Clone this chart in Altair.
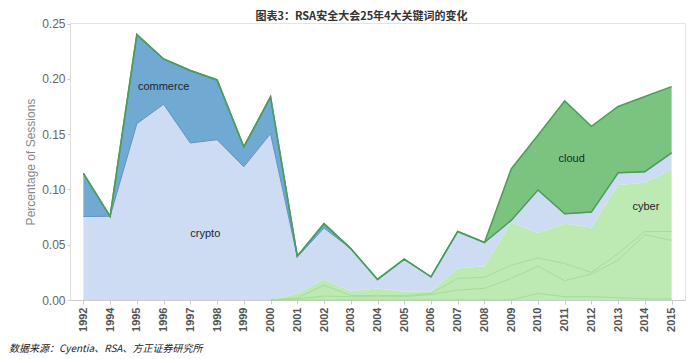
import altair as alt
import pandas as pd

years = ["1992", "1994", "1995", "1996", "1997", "1998", "1999", "2000", "2001", "2002", "2003", "2004",
         "2005", "2006", "2007", "2008", "2009", "2010", "2011", "2012", "2013", "2014", "2015"]

# stacked from bottom to top
other3 = [0, 0, 0, 0, 0, 0, 0, 0, 0, 0, 0, 0, 0, 0, 0, 0, 0, 0.006, 0.003, 0.003, 0.002, 0.001, 0.001]
other2 = [0, 0, 0, 0, 0, 0, 0, 0, 0.001, 0.0035, 0.003, 0.003, 0.003, 0.005, 0.009, 0.0105, 0.0195, 0.0245,
          0.0145, 0.0205, 0.034, 0.058, 0.053]
other1 = [0, 0, 0, 0, 0, 0, 0, 0, 0.001, 0.010, 0.001, 0.001, 0.001, 0.001, 0.0105, 0.010, 0.012, 0.0075,
          0.0155, 0.0015, 0.006, 0.003, 0.008]
cyber = [0, 0, 0, 0, 0, 0, 0, 0, 0.004, 0.005, 0.004, 0.0065, 0.0035, 0.0015, 0.009, 0.010, 0.0385, 0.0225,
         0.036, 0.0405, 0.062, 0.044, 0.056]
crypto = [0.0755, 0.0757, 0.1595, 0.177, 0.142, 0.145, 0.1205, 0.1505, 0.033, 0.0465, 0.0385, 0.0081, 0.0295,
          0.0135, 0.0335, 0.0215, 0.002, 0.039, 0.009, 0.014, 0.011, 0.010, 0.015]
commerce = [0.039, 0, 0.0805, 0.041, 0.0655, 0.054, 0.018, 0.0332, 0.0006, 0.004, 0, 0, 0, 0, 0, 0, 0, 0, 0,
            0, 0, 0, 0]
cloud = [0, 0, 0, 0, 0, 0, 0, 0, 0, 0, 0, 0, 0, 0, 0, 0, 0.0465, 0.0495, 0.102, 0.0775, 0.060, 0.068, 0.060]

series = {"other3": other3, "other2": other2, "other1": other1, "cyber": cyber,
          "crypto": crypto, "commerce": commerce, "cloud": cloud}
fills = {"other3": "#bde9b2", "other2": "#bde9b2", "other1": "#bde9b2", "cyber": "#bde9b2",
         "crypto": "#cddcf3", "commerce": "#70a9d2", "cloud": "#7ac47f"}

label_names = ["commerce", "crypto", "cloud", "cyber"]
label_years = ["1996", "1997", "2011", "2014"]
label_vals = [0.1925, 0.060, 0.1277, 0.0839]
label_dx = [0, 15, 7, 1]

title_text = "图表3：RSA安全大会25年4大关键词的变化"
source_text = "数据来源：Cyentia、RSA、方正证券研究所"

rows = []
for k, (name, vals) in enumerate(series.items()):
    for y, v in zip(years, vals):
        rows.append({"year": y, "series": name, "value": v, "ord": k})
df = pd.DataFrame(rows)

W, H = 615, 277

base = alt.Chart(df).transform_stack(
    stack="value", groupby=["year"], as_=["y0", "y1"],
    sort=[alt.SortField("ord", order="ascending")]
).transform_calculate(yr="toNumber(datum.year)")

xenc = alt.X("year:O", sort=years,
             scale=alt.Scale(type="point", padding=0.5),
             axis=alt.Axis(title=None, labelAngle=270, labelFontWeight="bold", labelFontSize=11,
                           labelColor="#555555", labelFont="Liberation Sans", tickColor="#cccccc",
                           tickSize=4, domainColor="#cccccc", labelPadding=3))
yscale = alt.Scale(domain=[0, 0.2505], nice=False)
yaxis = alt.Axis(title="Percentage of Sessions", format=".2f",
                 values=[0, 0.05, 0.10, 0.15, 0.20, 0.25],
                 labelFontSize=12, labelColor="#666666", labelFont="Liberation Sans",
                 titleColor="#888888", titleFontSize=12, titleFontWeight="normal",
                 titleFont="Liberation Sans", tickColor="#cccccc", tickSize=3, labelPadding=2,
                 domainColor="#dddddd", grid=False, titlePadding=4)


def yenc(field):
    return alt.Y(field, scale=yscale, axis=yaxis)


layers = []
for name in series:
    layers.append(
        base.transform_filter(alt.datum.series == name)
        .mark_area(color=fills[name], opacity=1, interpolate="linear")
        .encode(x=xenc, y=yenc("y1:Q"), y2="y0:Q")
    )

for name in ["other3", "other2", "other1"]:
    layers.append(
        base.transform_filter((alt.datum.series == name) & (alt.datum.yr >= 2000))
        .mark_line(color="#a6da99", strokeWidth=1)
        .encode(x=xenc, y=yenc("y1:Q"))
    )

layers.append(
    base.transform_filter(alt.datum.series == "crypto")
    .mark_line(color="#5d94c0", strokeWidth=1)
    .encode(x=xenc, y=yenc("y1:Q"))
)
layers.append(
    base.transform_filter(alt.datum.series == "cloud")
    .mark_line(color="#4e9c5d", strokeWidth=1.5)
    .encode(x=xenc, y=yenc("y0:Q"))
)
layers.append(
    base.transform_filter(alt.datum.series == "cloud")
    .mark_line(color="#4e9c5d", strokeWidth=1.5)
    .encode(x=xenc, y=yenc("y1:Q"))
)

for name, yr, v, dx in zip(label_names, label_years, label_vals, label_dx):
    ldf = pd.DataFrame({"year": [yr], "val": [v], "lab": [name]})
    layers.append(
        alt.Chart(ldf).mark_text(fontSize=11, color="#1e2430", font="Liberation Sans", dx=dx)
        .encode(x=xenc, y=yenc("val:Q"), text="lab:N")
    )

ttl = alt.Chart(pd.DataFrame({"t": [title_text]})).mark_text(
    align="center", baseline="middle", fontSize=11, fontWeight="bold",
    font="Noto Sans CJK SC", color="#333333"
).encode(x=alt.value(W / 2 - 16), y=alt.value(-6.5), text="t:N")
layers.append(ttl)

src = alt.Chart(pd.DataFrame({"t": [source_text]})).mark_text(
    align="left", baseline="middle", fontSize=10, fontStyle="italic",
    font="Noto Sans CJK SC", color="#222222"
).encode(x=alt.value(-61), y=alt.value(326), text="t:N")
layers.append(src)

chart = alt.layer(*layers).properties(
    width=W, height=H,
    autosize=alt.AutoSizeParams(type="none"),
    padding={"left": 62, "top": 15, "right": 7, "bottom": 55},
).configure_view(stroke="#e4e4e4")

chart.save("out.html", embed_options={"renderer": "svg", "actions": False})
